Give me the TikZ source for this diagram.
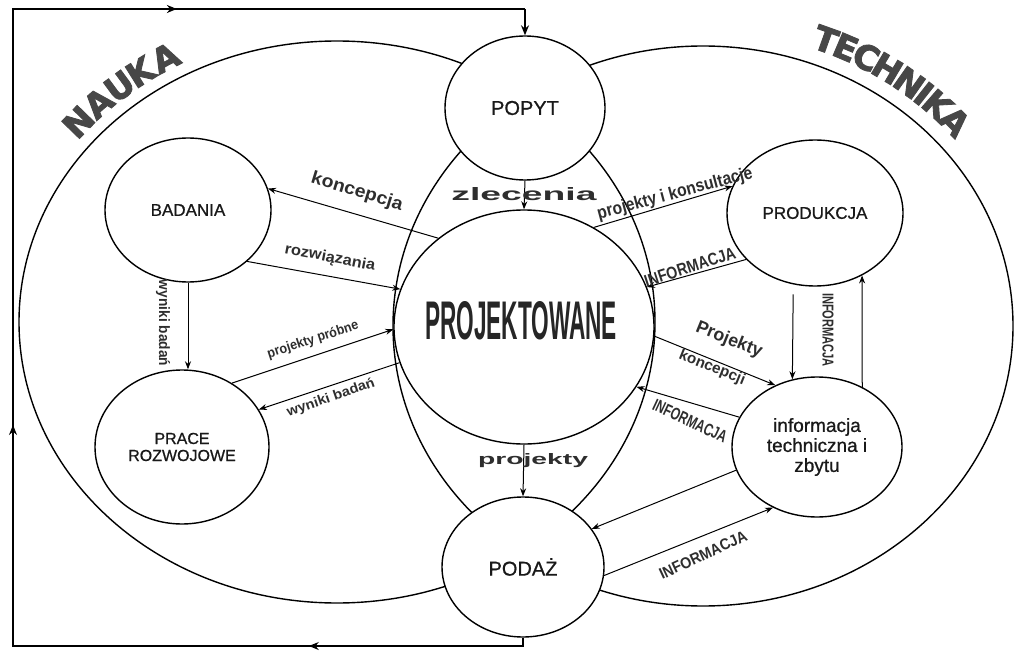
\documentclass[tikz,border=0pt]{standalone}
\usepackage{fontspec}
\setmainfont{Liberation Sans}
\newfontfamily\heavy[FakeBold=2.5]{DejaVu Sans Bold}
\newfontfamily\nodefont[FakeBold=0.8]{Liberation Sans}
\usepackage{graphicx}
\usetikzlibrary{arrows.meta,shapes.geometric,calc}
\newcommand{\mylab}[3]{\resizebox{#1pt}{#2pt}{\bfseries #3}}
\begin{document}
\begin{tikzpicture}[x=1pt,y=-1pt,
  bubble/.style={draw, ellipse, line width=1.4pt, fill=white, inner sep=0pt, text=black!90, align=center},
  region/.style={draw, line width=1.4pt},
  arr/.style={line width=1pt, -{Stealth[length=8pt,width=6pt]}},
  fb/.style={line width=1.3pt},
  fbarr/.style={line width=1.3pt, -{Stealth[length=10pt,width=8pt]}},
  lbl/.style={inner sep=0pt, text=black!82},
  bigl/.style={inner sep=0pt, anchor=base, text=black!72, font=\heavy\fontsize{34pt}{34pt}\selectfont}
]
\useasboundingbox (0,0) rectangle (1022,652);
\fill[white] (0,0) rectangle (1022,652);

% big regions
\draw[region] (337,322) ellipse [x radius=318, y radius=281];
\draw[region] (703,326) ellipse [x radius=310, y radius=280];

% NAUKA
\node[bigl, rotate=45.8] (n1) at (87.2,130.6) {N};
\node[bigl, rotate=40.9] (n2) at (106.5,112.3) {A};
\node[bigl, rotate=36.3] (n3) at (126.7,96.2) {U};
\node[bigl, rotate=32.0] (n4) at (146.9,82.5) {K};
\node[bigl, rotate=27.3] (n5) at (171.0,68.8) {A};
% TECHNIKA
\node[bigl, rotate=-19.6] (t1) at (821.6,51.3) {T};
\node[bigl, rotate=-23.0] (t2) at (840.9,58.8) {E};
\node[bigl, rotate=-26.7] (t3) at (860.6,68.0) {C};
\node[bigl, rotate=-30.7] (t4) at (881.0,79.1) {H};
\node[bigl, rotate=-35.1] (t5) at (902.2,92.9) {N};
\node[bigl, rotate=-38.3] (t6) at (916.2,103.4) {I};
\node[bigl, rotate=-41.3] (t7) at (929.2,114.2) {K};
\node[bigl, rotate=-45.6] (t8) at (946.0,130.1) {A};

% nodes
\node[bubble, minimum width=160pt, minimum height=144pt, font=\nodefont\fontsize{20pt}{22pt}\selectfont] (popyt) at (525,108) {POPYT};
\node[bubble, minimum width=260pt, minimum height=234pt] (proj) at (524,327) {};
\node[lbl, text=black!85] (projtxt) at (521,321) {\resizebox{192pt}{38pt}{\bfseries PROJEKTOWANE}};
\node[bubble, minimum width=162pt, minimum height=140pt, font=\nodefont\fontsize{20pt}{22pt}\selectfont] (podaz) at (523,567) {PODAŻ};
\node[bubble, minimum width=166pt, minimum height=144pt, font=\nodefont\fontsize{17pt}{19pt}\selectfont] (bad) at (188,210) {BADANIA};
\node[bubble, minimum width=174pt, minimum height=154pt, font=\nodefont\fontsize{16pt}{17pt}\selectfont] (prace) at (182,447) {PRACE\\ROZWOJOWE};
\node[bubble, minimum width=176pt, minimum height=146pt, font=\nodefont\fontsize{17pt}{19pt}\selectfont] (prod) at (815,213) {PRODUKCJA};
\node[bubble, minimum width=170pt, minimum height=140pt, font=\nodefont\fontsize{19pt}{20pt}\selectfont] (info) at (817,447) {informacja\\techniczna i\\zbytu};

% feedback loop
\coordinate (lb) at (13,646);
\coordinate (lt) at (13,9);
\coordinate (rb) at (podaz.south |- lb);
\coordinate (rt) at (popyt.north |- lt);
\draw[fb] (podaz.south) -- (rb) -- (lb) -- (lt) -- (rt);
\draw[fbarr] (rb) -- ($(rb)!0.42!(lb)$);
\draw[fbarr] (lb) -- ($(lb)!0.347!(lt)$);
\draw[fbarr] (lt) -- ($(lt)!0.32!(rt)$);
\draw[fbarr] (rt) -- (popyt.north);

% connectors
\draw[arr] (popyt.south) -- (proj.north);
\draw[arr] (proj.south) -- (podaz.north);
\draw[arr] (proj.134) -- (bad.15);
\draw[arr] (bad.-41) -- (proj.163);
\draw[arr] (bad.south) -- (bad.south |- prace.north);
\draw[arr] (prace.52) -- (proj.181);
\draw[arr] (proj.196) -- (prace.26);
\draw[arr] (proj.55) -- (prod.162);
\draw[arr] (prod.214) -- (proj.18);
\draw[arr] (proj.-4) -- (info.124);
\draw[arr] (info.159) -- (proj.-28);
\draw[arr] ([yshift=-10pt]prod.-107) -- (info.110);
\draw[arr] (info.53) -- (prod.-53);
\draw[arr] (info.196) -- (podaz.29);
\draw[arr] (podaz.-6) -- (info.234);

% labels
\node[lbl, rotate=-17] (lkon) at (357,192) {\mylab{95}{13}{koncepcja}};
\node[lbl, rotate=-11] (lroz) at (330,258) {\mylab{92}{11}{rozwiązania}};
\node[lbl, rotate=-90] (lwb1) at (163,323) {\mylab{86}{11}{wyniki badań}};
\node[lbl, rotate=18] (lpp) at (313,340) {\mylab{95}{10}{projekty próbne}};
\node[lbl, rotate=19] (lwb2) at (331,398) {\mylab{92}{10}{wyniki badań}};
\node[lbl] (lzl) at (524,194) {\mylab{145}{13}{zlecenia}};
\node[lbl, rotate=15] (lpik) at (675,194) {\mylab{160}{13}{projekty i konsultacje}};
\node[lbl, rotate=18] (linf1) at (690,267) {\mylab{95}{12}{INFORMACJA}};
\node[lbl, rotate=-22] (lpk1) at (729,340) {\mylab{70}{13}{Projekty}};
\node[lbl, rotate=-22] (lpk2) at (712,368) {\mylab{70}{11}{koncepcji}};
\node[lbl, rotate=-25] (linf2) at (690,421) {\mylab{80}{12}{INFORMACJA}};
\node[lbl, rotate=-90] (linf3) at (828,330) {\mylab{74}{11}{INFORMACJA}};
\node[lbl] (lproj) at (533,461) {\mylab{110}{11}{projekty}};
\node[lbl, rotate=25] (linf4) at (703,555) {\mylab{95}{11}{INFORMACJA}};
\end{tikzpicture}
\end{document}
